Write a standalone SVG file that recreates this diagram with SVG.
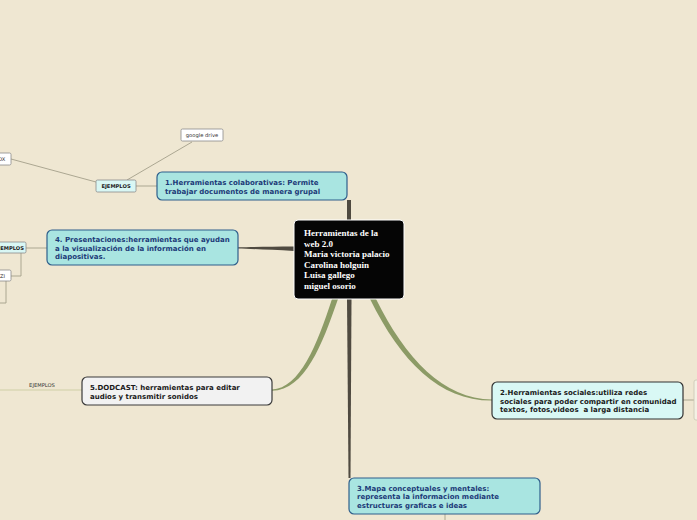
<svg xmlns="http://www.w3.org/2000/svg" width="697" height="520" viewBox="0 0 697 520">
<style>
.bg{fill:#efe7d2}
.t{font-family:"DejaVu Sans",Verdana,sans-serif;font-weight:bold;font-size:7px}
.blue{fill:#a9e5e1;stroke:#2f5f8c;stroke-width:1.2}
.bt{fill:#1c3a78}
.dk{fill:#1a1a1a}
.sm{font-family:"DejaVu Sans",Verdana,sans-serif;font-size:5.2px;fill:#333}
.smb{font-family:"DejaVu Sans",Verdana,sans-serif;font-size:5.2px;font-weight:bold;fill:#222}
.tag{fill:#fff;stroke:#8a8a8a;stroke-width:0.8}
.tagc{fill:#d9f7f4;stroke:#8a8a8a;stroke-width:0.8}
.thin{stroke:#a49f8a;stroke-width:0.9;fill:none}
.ct{font-family:"Liberation Serif","Times New Roman",serif;font-weight:bold;font-size:9px;fill:#fff}
</style>
<rect class="bg" x="0" y="0" width="697" height="520"/>
<g id="connectors">
<path d="M347,200 L351,200 L351,220 L347,220 Z" fill="#4f4a40"/>
<path d="M294,246.5 C270,246.5 250,247 238,247.3 L238,248.6 C250,248.8 270,249.8 294,251 Z" fill="#4f4a40"/>
<path d="M347,299 L351.5,299 L350.5,478 L348.5,478 Z" fill="#4f4a40"/>
<path d="M332,299 L338,299 C322,345 305,390 272,390.8 L272,389.6 C300,388 317,345 332,299 Z" fill="#8c9b66"/>
<path d="M370,299 L376,299 C405,358 444,399.5 492,399.5 L492,400.6 C440,401 401,362 370,299 Z" fill="#8c9b66"/>
<path class="thin" d="M136,186 L157,186"/>
<path class="thin" d="M127,180 L192,142"/>
<path class="thin" d="M96,182 L11,159"/>
<path class="thin" d="M26,248 L47,248"/>
<path class="thin" d="M21,253 L21,276 L11,276"/>
<path class="thin" d="M6,281 L6,303 L0,303"/>
<path d="M0,390 L82,390" stroke="#cfcfa6" stroke-width="1" fill="none"/>
<path class="thin" d="M683,400 L694,400"/>
<path class="thin" d="M445,514 L445,520"/>
</g>
<g id="central">
<rect x="294" y="220" width="110" height="79" rx="4" fill="#050505" stroke="#ffffff" stroke-width="1"/>
<text class="ct"><tspan x="304" y="236">Herramientas de la</tspan><tspan x="304" y="246.5">web 2.0</tspan><tspan x="304" y="257">Maria victoria palacio</tspan><tspan x="304" y="267.5">Carolina holguin</tspan><tspan x="304" y="278">Luisa gallego</tspan><tspan x="304" y="288.5">miguel osorio</tspan></text>
</g>
<g id="node1">
<rect class="blue" x="157" y="172" width="190" height="28" rx="5"/>
<text class="t bt"><tspan x="165" y="185">1.Herramientas colaborativas: Permite</tspan><tspan x="165" y="193.5">trabajar documentos de manera grupal</tspan></text>
</g>
<g id="ejemplos1">
<rect class="tagc" x="96" y="180" width="40" height="12" rx="1.5"/>
<text class="smb" x="116" y="188" text-anchor="middle">EJEMPLOS</text>
</g>
<g id="googledrive">
<rect class="tag" x="181" y="129" width="42" height="12" rx="1.5"/>
<text class="sm" x="202" y="137" text-anchor="middle">google drive</text>
</g>
<g id="ox">
<rect class="tag" x="-6" y="153" width="17" height="12" rx="1.5"/>
<text class="sm" x="-2" y="161">OX</text>
</g>
<g id="node4">
<rect class="blue" x="47" y="230" width="191" height="35" rx="5"/>
<text class="t bt"><tspan x="55" y="242">4. Presentaciones:herramientas que ayudan</tspan><tspan x="55" y="250.5">a la visualización de la información en</tspan><tspan x="55" y="259">diapositivas.</tspan></text>
</g>
<g id="ejemplos4">
<rect class="tagc" x="-6" y="242" width="32" height="11" rx="1.5"/>
<text class="smb" x="24" y="249.5" text-anchor="end">EJEMPLOS</text>
</g>
<g id="zi">
<rect class="tag" x="-6" y="270" width="17" height="11" rx="1.5"/>
<text class="sm" x="0" y="277.5">ZI</text>
</g>
<g id="node5">
<rect x="82" y="377" width="190" height="28" rx="5" fill="#f2f2f2" stroke="#3a3a3a" stroke-width="1.2"/>
<text class="t dk"><tspan x="90" y="390">5.DODCAST: herramientas para editar</tspan><tspan x="90" y="398.5">audios y transmitir sonidos</tspan></text>
</g>
<g id="ejemplos5">
<text class="sm" x="42" y="387" text-anchor="middle" fill="#555">EJEMPLOS</text>
</g>
<g id="node2">
<rect x="492" y="382" width="191" height="37" rx="5" fill="#d9f8f5" stroke="#333333" stroke-width="1.2"/>
<text class="t dk"><tspan x="500" y="395">2.Herramientas sociales:utiliza redes</tspan><tspan x="500" y="403.5">sociales para poder compartir en comunidad</tspan><tspan x="500" y="412">textos, fotos,videos &#160;a larga distancia</tspan></text>
</g>
<g id="node2child">
<rect x="694" y="380" width="10" height="40" rx="2" fill="#f4f1e4" stroke="#c9c6b2" stroke-width="0.8"/>
</g>
<g id="node3">
<rect class="blue" x="349" y="478" width="191" height="36" rx="5"/>
<text class="t bt"><tspan x="357" y="490.5">3.Mapa conceptuales y mentales:</tspan><tspan x="357" y="499">representa la informacion mediante</tspan><tspan x="357" y="507.5">estructuras graficas e ideas</tspan></text>
</g>
</svg>
